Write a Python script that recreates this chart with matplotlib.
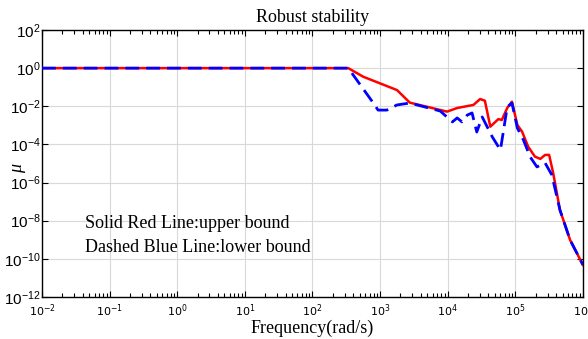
import matplotlib
matplotlib.use("Agg")
import matplotlib.pyplot as plt
import numpy as np
from matplotlib.ticker import LogLocator, NullFormatter, FixedLocator

plt.rcParams["mathtext.fontset"] = "custom"
plt.rcParams["mathtext.rm"] = "Liberation Sans"
plt.rcParams["mathtext.it"] = "Liberation Sans:italic"

# log10 of frequency / mu
upper_logw = [-2.0, 2.53, 2.75, 3.25, 3.44, 3.99, 4.14, 4.38, 4.48, 4.55, 4.63,
              4.75, 4.80, 4.88, 4.95, 5.03, 5.10, 5.19, 5.29, 5.37, 5.44, 5.50,
              5.56, 5.66, 5.81, 6.0]
upper_logmu = [0.0, 0.0, -0.45, -1.15, -1.81, -2.28, -2.09, -1.93, -1.62, -1.71,
               -3.07, -2.67, -2.72, -2.09, -1.76, -2.98, -3.33, -4.12, -4.64,
               -4.76, -4.55, -4.55, -5.5, -7.44, -9.01, -10.32]

lower_logw = [-2.0, 2.53, 2.90, 2.97, 3.10, 3.25, 3.44, 3.89, 4.07, 4.14, 4.21,
              4.29, 4.36, 4.43, 4.51, 4.66, 4.78, 4.88, 4.95, 5.03, 5.12, 5.22,
              5.32, 5.44, 5.54, 5.66, 5.81, 6.0]
lower_logmu = [0.0, 0.0, -1.83, -2.20, -2.20, -1.93, -1.83, -2.25, -2.82, -2.61,
               -2.82, -2.46, -2.35, -3.35, -2.56, -3.61, -4.29, -2.04, -1.83,
               -3.14, -3.77, -4.66, -5.18, -4.97, -5.60, -7.44, -9.01, -10.32]

y_ticks = [1e2, 1e0, 1e-2, 1e-4, 1e-6, 1e-8, 1e-10, 1e-12]
y_labels = ["$10^{2}$", "$10^{0}$", "$10^{-2}$", "$10^{-4}$", "$10^{-6}$",
            "$10^{-8}$", "$10^{-10}$", "$10^{-12}$"]

serif = ["Liberation Serif", "DejaVu Serif"]

fig = plt.figure(figsize=(5.88, 3.39), dpi=100)
ax = fig.add_axes([0.0714, 0.124, 0.92, 0.7875])

ax.plot(10 ** np.array(upper_logw), 10 ** np.array(upper_logmu),
        color="red", lw=1.8, zorder=3)
ax.plot(10 ** np.array(lower_logw), 10 ** np.array(lower_logmu),
        color="blue", lw=2.0, dashes=(5, 2.5), zorder=4)

ax.set_xscale("log")
ax.set_yscale("log")
ax.set_xlim(1e-2, 1e6)
ax.set_ylim(1e-12, 1e2)

ax.xaxis.set_major_locator(LogLocator(base=10, numticks=20))
ax.xaxis.set_minor_locator(LogLocator(base=10, subs=np.arange(2, 10), numticks=20))
ax.xaxis.set_minor_formatter(NullFormatter())
ax.yaxis.set_major_locator(FixedLocator(y_ticks))
ax.yaxis.set_minor_locator(FixedLocator([]))
ax.set_yticklabels(y_labels)

ax.tick_params(which="both", direction="in", top=True, right=True, width=0.8)
ax.tick_params(which="major", length=4)
ax.tick_params(which="minor", length=3)
ax.tick_params(axis="x", labelsize=8, pad=4)
ax.tick_params(axis="y", labelsize=11, pad=1)
for sp in ax.spines.values():
    sp.set_linewidth(1.0)

ax.grid(True, which="major", color="#d9d9d9", lw=0.8)
ax.set_axisbelow(True)

ax.set_title("Robust stability", family=serif, fontsize=13, pad=6)
ax.set_xlabel("Frequency(rad/s)", family=serif, fontsize=13, labelpad=0.5)
ax.text(-0.046, 0.48, "μ", transform=ax.transAxes, family=serif,
        style="italic", fontsize=13, rotation=90, ha="center", va="center")

ax.text(0.079, 0.257, "Solid Red Line:upper bound", transform=ax.transAxes,
        family=serif, fontsize=13, va="baseline")
ax.text(0.079, 0.170, "Dashed Blue Line:lower bound", transform=ax.transAxes,
        family=serif, fontsize=13, va="baseline")

fig.savefig("out.png", dpi=100)
